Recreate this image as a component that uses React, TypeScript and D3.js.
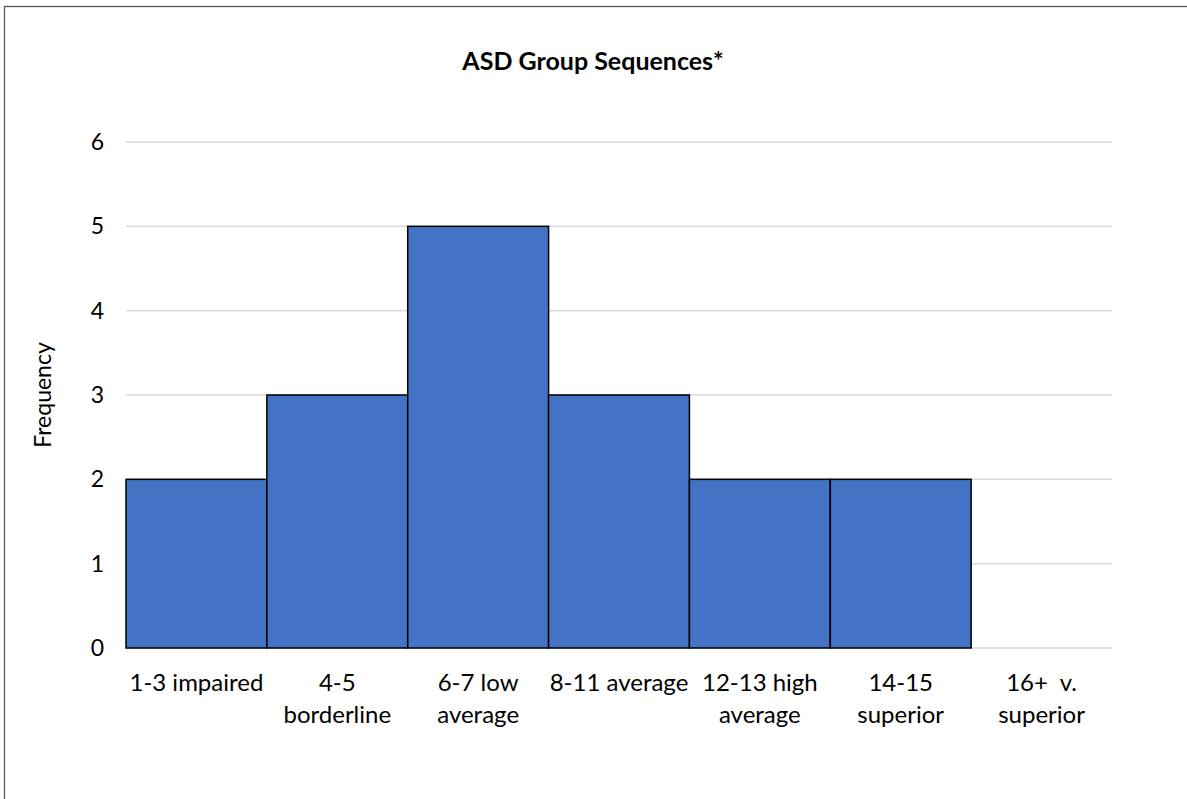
import React from "react";
import * as d3 from "d3";

const categories: string[][] = [
  ["1-3 impaired"],
  ["4-5", "borderline"],
  ["6-7 low", "average"],
  ["8-11 average"],
  ["12-13 high", "average"],
  ["14-15", "superior"],
  ["16+  v.", "superior"],
];
const frequencies: number[] = [2, 3, 5, 3, 2, 2, 0];
const yTicks: number[] = [0, 1, 2, 3, 4, 5, 6];
const title = "ASD Group Sequences*";
const yTitle = "Frequency";

const W = 1187;
const H = 799;
const FONT = "Lato, 'Open Sans', sans-serif";

export default function App() {
  const left = 126, right = 1112, top = 142, bottom = 648;
  const x = d3.scaleBand<number>().domain(categories.map((_, i) => i)).range([left, right]).padding(0);
  const y = d3.scaleLinear().domain([0, 6]).range([bottom, top]);

  return (
    <svg width={W} height={H} style={{ position: "absolute", left: 0, top: 0 }}>
      <rect x={0} y={0} width={W} height={H} fill="#fff" />
      <rect x={4.5} y={6.5} width={W + 20} height={H + 20} fill="none" stroke="#595959" strokeWidth={1.3} />
      <text x={593} y={70} textAnchor="middle" fontFamily={FONT} fontWeight="bold" fontSize={25} fill="#000">
        {title}
      </text>
      {yTicks.map((t) => (
        <g key={t}>
          <line x1={left} x2={right} y1={y(t)} y2={y(t)} stroke="#d9d9d9" strokeWidth={1.5} />
          <text x={104} y={y(t) + 8} textAnchor="end" fontFamily={FONT} fontSize={23} fill="#000">
            {t}
          </text>
        </g>
      ))}
      {frequencies.map((v, i) =>
        v > 0 ? (
          <rect
            key={i}
            x={x(i)!}
            y={y(v)}
            width={x.bandwidth()}
            height={y(0) - y(v)}
            fill="#4472C4"
            stroke="#000"
            strokeWidth={1.5}
          />
        ) : null
      )}
      {categories.map((lines, i) => (
        <text key={i} textAnchor="middle" fontFamily={FONT} fontSize={24} fill="#000">
          {lines.map((l, j) => (
            <tspan key={j} x={x(i)! + x.bandwidth() / 2} y={691 + j * 32} style={{ whiteSpace: "pre" }}>
              {l}
            </tspan>
          ))}
        </text>
      ))}
      <text
        transform={`translate(51, ${(top + bottom) / 2}) rotate(-90)`}
        textAnchor="middle"
        fontFamily={FONT}
        fontSize={23}
        fill="#000"
      >
        {yTitle}
      </text>
    </svg>
  );
}
